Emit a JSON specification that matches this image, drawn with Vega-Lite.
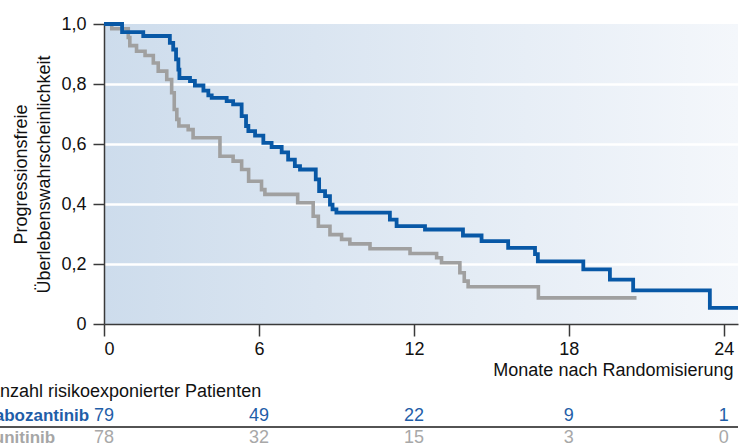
{
  "$schema": "https://vega.github.io/schema/vega-lite/v6.json",
  "background": "white",
  "padding": {"left": -18, "top": 15, "right": 0, "bottom": 0},
  "bounds": "flush",
  "spacing": 81,
  "config": {
    "font": "Liberation Sans",
    "view": {"stroke": null},
    "axis": {
      "labelFont": "Liberation Sans",
      "titleFont": "Liberation Sans",
      "labelColor": "#111111",
      "titleColor": "#111111",
      "titleFontWeight": "normal",
      "domainColor": "#3a3a3a",
      "tickColor": "#3a3a3a",
      "domainWidth": 1.5,
      "tickWidth": 1.5
    },
    "title": {"font": "Liberation Sans"}
  },
  "datasets": {
    "km": [
      {"arm": "Sunitinib", "month": 0, "surv": 1.0},
      {"arm": "Sunitinib", "month": 0.3, "surv": 0.984},
      {"arm": "Sunitinib", "month": 0.94, "surv": 0.955},
      {"arm": "Sunitinib", "month": 1.0, "surv": 0.928},
      {"arm": "Sunitinib", "month": 1.26, "surv": 0.909},
      {"arm": "Sunitinib", "month": 1.59, "surv": 0.895},
      {"arm": "Sunitinib", "month": 1.91, "surv": 0.87},
      {"arm": "Sunitinib", "month": 2.1, "surv": 0.843},
      {"arm": "Sunitinib", "month": 2.43, "surv": 0.815},
      {"arm": "Sunitinib", "month": 2.62, "surv": 0.771},
      {"arm": "Sunitinib", "month": 2.72, "surv": 0.715},
      {"arm": "Sunitinib", "month": 2.82, "surv": 0.682},
      {"arm": "Sunitinib", "month": 2.9, "surv": 0.66},
      {"arm": "Sunitinib", "month": 3.26, "surv": 0.648},
      {"arm": "Sunitinib", "month": 3.45, "surv": 0.621},
      {"arm": "Sunitinib", "month": 4.49, "surv": 0.559},
      {"arm": "Sunitinib", "month": 5.0, "surv": 0.543},
      {"arm": "Sunitinib", "month": 5.33, "surv": 0.515},
      {"arm": "Sunitinib", "month": 5.6, "surv": 0.476},
      {"arm": "Sunitinib", "month": 6.1, "surv": 0.448},
      {"arm": "Sunitinib", "month": 6.23, "surv": 0.432},
      {"arm": "Sunitinib", "month": 7.5, "surv": 0.404},
      {"arm": "Sunitinib", "month": 8.1, "surv": 0.359},
      {"arm": "Sunitinib", "month": 8.3, "surv": 0.326},
      {"arm": "Sunitinib", "month": 8.75, "surv": 0.298},
      {"arm": "Sunitinib", "month": 9.2, "surv": 0.282},
      {"arm": "Sunitinib", "month": 9.52, "surv": 0.267},
      {"arm": "Sunitinib", "month": 10.3, "surv": 0.251},
      {"arm": "Sunitinib", "month": 11.85, "surv": 0.235},
      {"arm": "Sunitinib", "month": 12.88, "surv": 0.221},
      {"arm": "Sunitinib", "month": 13.07, "surv": 0.204},
      {"arm": "Sunitinib", "month": 13.78, "surv": 0.171},
      {"arm": "Sunitinib", "month": 13.95, "surv": 0.143},
      {"arm": "Sunitinib", "month": 14.1, "surv": 0.124},
      {"arm": "Sunitinib", "month": 16.82, "surv": 0.087},
      {"arm": "Sunitinib", "month": 20.62, "surv": 0.087},
      {"arm": "Cabozantinib", "month": 0, "surv": 1.0},
      {"arm": "Cabozantinib", "month": 0.7, "surv": 0.973},
      {"arm": "Cabozantinib", "month": 1.52, "surv": 0.96},
      {"arm": "Cabozantinib", "month": 2.55, "surv": 0.937},
      {"arm": "Cabozantinib", "month": 2.68, "surv": 0.915},
      {"arm": "Cabozantinib", "month": 2.79, "surv": 0.882},
      {"arm": "Cabozantinib", "month": 2.88, "surv": 0.848},
      {"arm": "Cabozantinib", "month": 2.92, "surv": 0.82},
      {"arm": "Cabozantinib", "month": 3.33, "surv": 0.81},
      {"arm": "Cabozantinib", "month": 3.52, "surv": 0.795},
      {"arm": "Cabozantinib", "month": 3.85, "surv": 0.778},
      {"arm": "Cabozantinib", "month": 4.04, "surv": 0.762},
      {"arm": "Cabozantinib", "month": 4.17, "surv": 0.754},
      {"arm": "Cabozantinib", "month": 4.75, "surv": 0.743},
      {"arm": "Cabozantinib", "month": 5.0, "surv": 0.732},
      {"arm": "Cabozantinib", "month": 5.33, "surv": 0.693},
      {"arm": "Cabozantinib", "month": 5.5, "surv": 0.66},
      {"arm": "Cabozantinib", "month": 5.59, "surv": 0.643},
      {"arm": "Cabozantinib", "month": 5.85, "surv": 0.628},
      {"arm": "Cabozantinib", "month": 6.17, "surv": 0.604},
      {"arm": "Cabozantinib", "month": 6.49, "surv": 0.59},
      {"arm": "Cabozantinib", "month": 6.88, "surv": 0.572},
      {"arm": "Cabozantinib", "month": 7.13, "surv": 0.548},
      {"arm": "Cabozantinib", "month": 7.39, "surv": 0.526},
      {"arm": "Cabozantinib", "month": 7.59, "surv": 0.515},
      {"arm": "Cabozantinib", "month": 8.2, "surv": 0.482},
      {"arm": "Cabozantinib", "month": 8.33, "surv": 0.443},
      {"arm": "Cabozantinib", "month": 8.56, "surv": 0.426},
      {"arm": "Cabozantinib", "month": 8.75, "surv": 0.398},
      {"arm": "Cabozantinib", "month": 8.85, "surv": 0.382},
      {"arm": "Cabozantinib", "month": 9.0, "surv": 0.371},
      {"arm": "Cabozantinib", "month": 11.07, "surv": 0.348},
      {"arm": "Cabozantinib", "month": 11.33, "surv": 0.326},
      {"arm": "Cabozantinib", "month": 12.43, "surv": 0.315},
      {"arm": "Cabozantinib", "month": 13.9, "surv": 0.295},
      {"arm": "Cabozantinib", "month": 14.62, "surv": 0.276},
      {"arm": "Cabozantinib", "month": 15.65, "surv": 0.254},
      {"arm": "Cabozantinib", "month": 16.69, "surv": 0.233},
      {"arm": "Cabozantinib", "month": 16.8, "surv": 0.209},
      {"arm": "Cabozantinib", "month": 18.56, "surv": 0.182},
      {"arm": "Cabozantinib", "month": 19.59, "surv": 0.148},
      {"arm": "Cabozantinib", "month": 20.49, "surv": 0.112},
      {"arm": "Cabozantinib", "month": 23.46, "surv": 0.054},
      {"arm": "Cabozantinib", "month": 24.55, "surv": 0.054}
    ],
    "risk": [
      {"arm": "Cabozantinib", "month": 0, "n": 79},
      {"arm": "Cabozantinib", "month": 6, "n": 49},
      {"arm": "Cabozantinib", "month": 12, "n": 22},
      {"arm": "Cabozantinib", "month": 18, "n": 9},
      {"arm": "Cabozantinib", "month": 24, "n": 1},
      {"arm": "Sunitinib", "month": 0, "n": 78},
      {"arm": "Sunitinib", "month": 6, "n": 32},
      {"arm": "Sunitinib", "month": 12, "n": 15},
      {"arm": "Sunitinib", "month": 18, "n": 3},
      {"arm": "Sunitinib", "month": 24, "n": 0}
    ]
  },
  "vconcat": [
    {
      "width": 634,
      "height": 300,
      "view": {
        "stroke": null,
        "fill": {
          "gradient": "linear",
          "x1": 0, "y1": 0, "x2": 1, "y2": 0,
          "stops": [
            {"offset": 0, "color": "#cddcec"},
            {"offset": 1, "color": "#f4f7fb"}
          ]
        }
      },
      "data": {"name": "km"},
      "encoding": {
        "x": {
          "field": "month",
          "type": "quantitative",
          "scale": {"domain": [0, 24.55], "nice": false, "zero": false},
          "axis": {
            "values": [0, 6, 12, 18, 24],
            "grid": false,
            "tickSize": 12,
            "labelPadding": 4,
            "labelFontSize": 18,
            "title": "Monate nach Randomisierung",
            "titleFontSize": 18,
            "titleAnchor": "end",
            "titleAlign": "right",
            "titleX": 629,
            "titlePadding": 3
          }
        },
        "y": {
          "field": "surv",
          "type": "quantitative",
          "scale": {"domain": [0, 1], "nice": false},
          "axis": {
            "values": [0, 0.2, 0.4, 0.6, 0.8, 1.0],
            "labelExpr": "datum.value == 0 ? '0' : replace(format(datum.value, '.1f'), '.', ',')",
            "tickSize": 11,
            "labelPadding": 7,
            "labelFontSize": 18,
            "grid": true,
            "gridColor": "#ffffff",
            "gridWidth": 2.5,
            "gridOpacity": {"condition": {"test": "datum.value > 0.99 || datum.value < 0.01", "value": 0}, "value": 1},
            "title": ["Progressionsfreie", "Überlebenswahrscheinlichkeit"],
            "titleFontSize": 18,
            "titleLineHeight": 23,
            "titlePadding": 7
          }
        }
      },
      "layer": [
        {
          "transform": [{"filter": "datum.arm == 'Sunitinib'"}],
          "mark": {"type": "line", "interpolate": "step-after", "color": "#a0a0a0", "strokeWidth": 3.6}
        },
        {
          "transform": [{"filter": "datum.arm == 'Cabozantinib'"}],
          "mark": {"type": "line", "interpolate": "step-after", "color": "#0858a6", "strokeWidth": 3.8}
        }
      ]
    },
    {
      "width": 634,
      "height": 44,
      "view": {"stroke": null},
      "title": {
        "text": "Anzahl risikoexponierter Patienten",
        "anchor": "start",
        "frame": "group",
        "fontSize": 18,
        "fontWeight": "normal",
        "color": "#111111",
        "baseline": "alphabetic",
        "offset": -10,
        "dx": -116
      },
      "layer": [
        {
          "data": {"name": "risk"},
          "mark": {"type": "text", "fontSize": 18, "font": "Liberation Sans"},
          "encoding": {
            "x": {
              "field": "month",
              "type": "quantitative",
              "scale": {"domain": [0, 24.55], "nice": false, "zero": false},
              "axis": null
            },
            "y": {
              "field": "arm",
              "type": "nominal",
              "scale": {"type": "band", "domain": ["Cabozantinib", "Sunitinib"], "paddingInner": 0, "paddingOuter": 0},
              "axis": {
                "title": null,
                "ticks": false,
                "domain": false,
                "grid": false,
                "labelAlign": "left",
                "labelPadding": 122,
                "labelFontSize": 17,
                "labelFontWeight": "bold",
                "labelColor": {"condition": {"test": "datum.value == 'Cabozantinib'", "value": "#1f5ea8"}, "value": "#a6a6a6"}
              }
            },
            "text": {"field": "n", "type": "quantitative"},
            "color": {
              "field": "arm",
              "type": "nominal",
              "scale": {"domain": ["Cabozantinib", "Sunitinib"], "range": ["#1f5ea8", "#a8a8a8"]},
              "legend": null
            }
          }
        },
        {
          "data": {"values": [{"arm": "line"}]},
          "mark": {"type": "rule", "color": "#1a1a1a", "strokeWidth": 1.4},
          "encoding": {
            "x": {"datum": -4.1},
            "x2": {"datum": 24.55},
            "y": {"datum": "Sunitinib", "bandPosition": 0}
          }
        }
      ]
    }
  ]
}
